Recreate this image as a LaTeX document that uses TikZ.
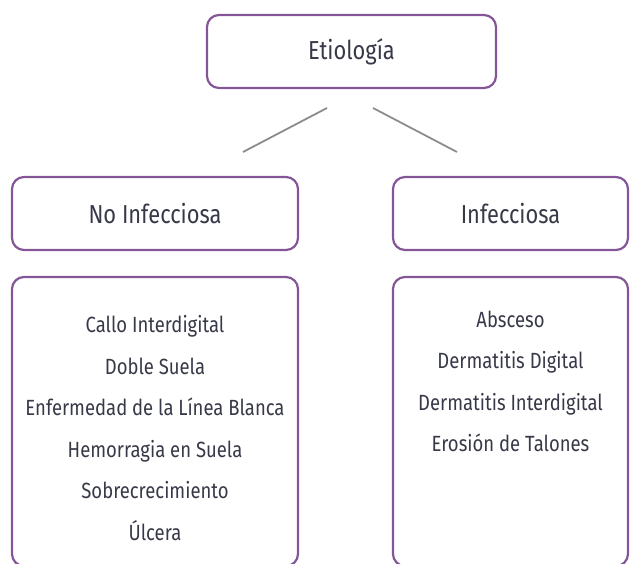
\documentclass[tikz,border=0pt]{standalone}
\usepackage{fontspec}
\setmainfont[FakeStretch=0.84]{Fira Sans}
\usetikzlibrary{positioning}
\definecolor{boxpurple}{RGB}{132,86,152}
\definecolor{txtgray}{RGB}{55,57,72}
\definecolor{linegray}{RGB}{140,140,140}

\begin{document}
\begin{tikzpicture}[x=1pt,y=-1pt,node distance=100pt,on grid,
  box/.style={draw=boxpurple,line width=2.2pt,rounded corners=12pt,text=txtgray},
  head/.style={box,minimum height=73pt,font=\fontsize{26}{30}\selectfont},
  items/.style={text=txtgray,align=center,anchor=north,font=\fontsize{22}{41.5}\selectfont},
  link/.style={draw=linegray,line width=1.8pt}]
\useasboundingbox (0,0) rectangle (631,564);
\clip (0,0) rectangle (631,564);
\node[head,minimum width=289pt] (etio) at (351.5,51.5) {Etiología};
\node[head,minimum width=286pt] (noinf) [below left=162pt and 196.5pt of etio] {No Infecciosa};
\node[head,minimum width=235pt] (inf) [below right=162pt and 159pt of etio] {Infecciosa};
\node[box,minimum width=286pt,minimum height=289pt] (noinfbox) [below=208pt of noinf] {};
\node[box,minimum width=235pt,minimum height=289pt] (infbox) [below=208pt of inf] {};
% lists
\node[items] (noinflist) at (155,312) {Callo Interdigital\\Doble Suela\\Enfermedad de la Línea Blanca\\Hemorragia en Suela\\Sobrecrecimiento\\Úlcera};
\node[items] (inflist) at (510.5,307) {Absceso\\Dermatitis Digital\\Dermatitis Interdigital\\Erosión de Talones};
% connectors
\coordinate (ltop) at (327,108);
\coordinate (lbot) at (243,152);
\coordinate (rtop) at (373,108);
\coordinate (rbot) at (457,152);
\draw[link] (ltop) -- (lbot);
\draw[link] (rtop) -- (rbot);
\end{tikzpicture}
\end{document}
